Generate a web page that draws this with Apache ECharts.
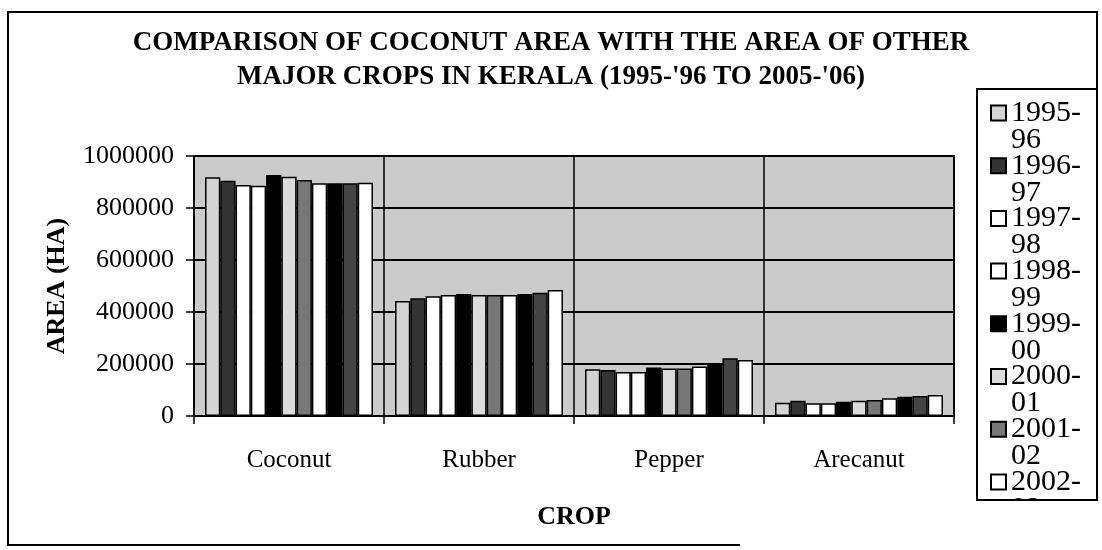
<!DOCTYPE html>
<html>
<head>
<meta charset="utf-8">
<script src="https://cdn.jsdelivr.net/npm/echarts@6/dist/echarts.min.js"></script>
<style>
  html, body { margin: 0; padding: 0; background: #fff; }
  #chart { width: 1102px; height: 550px; }
</style>
</head>
<body>
<div id="chart"></div>
<script>
// crops on the x axis
var crops = ['Coconut', 'Rubber', 'Pepper', 'Arecanut'];
var years = ['1995-96', '1996-97', '1997-98', '1998-99', '1999-00', '2000-01',
             '2001-02', '2002-03', '2003-04', '2004-05', '2005-06'];

// area (ha) per year, order = coconut, rubber, pepper, arecanut
var y1995 = [918000, 442000, 180000, 51000];
var y1996 = [905000, 453000, 177000, 59000];
var y1997 = [888000, 461000, 169000, 49000];
var y1998 = [886000, 465000, 169000, 49000];
var y1999 = [927000, 469000, 187000, 55000];
var y2000 = [920000, 465000, 183000, 59000];
var y2001 = [908000, 465000, 183000, 62000];
var y2002 = [895000, 465000, 190000, 68000];
var y2003 = [895000, 469000, 203000, 74000];
var y2004 = [895000, 474000, 222000, 77000];
var y2005 = [897000, 485000, 215000, 81000];

var yTicks = [0, 200000, 400000, 600000, 800000, 1000000];

var allData = [y1995, y1996, y1997, y1998, y1999, y2000, y2001, y2002, y2003, y2004, y2005];
// fill of each year (scan: stippled greys, blacks, whites)
var fills = ['#d4d4d4', '#333333', '#ffffff', '#ffffff', '#000000', '#dcdcdc',
             '#777777', '#ffffff', '#000000', '#444444', '#ffffff'];

var serif = '"Liberation Serif", "Times New Roman", serif';

var series = [];
for (var i = 0; i < years.length; i++) {
  series.push({
    name: years[i],
    type: 'bar',
    data: allData[i],
    barGap: '0%',
    barCategoryGap: '11.6%',
    itemStyle: { color: fills[i], borderColor: '#000', borderWidth: 1.5 }
  });
}

var chart = echarts.init(document.getElementById('chart'));
chart.setOption({
  backgroundColor: '#fff',
  animation: false,
  title: {
    text: "COMPARISON OF COCONUT AREA WITH THE AREA OF OTHER\nMAJOR CROPS IN KERALA (1995-'96 TO 2005-'06)",
    left: 'center',
    top: 21,
    textStyle: { fontFamily: serif, fontWeight: 'bold', fontSize: 27, lineHeight: 34, color: '#000' }
  },
  legend: {
    orient: 'vertical',
    left: 990,
    top: 71,
    padding: 0,
    itemGap: -31.3,
    itemWidth: 15,
    itemHeight: 15,
    icon: 'rect',
    data: years.slice(0, 8),
    // blank first line so the year sits level with the swatch
    formatter: function (name) { return '\n' + name.replace('-', '-\n'); },
    textStyle: { fontFamily: serif, fontSize: 30, lineHeight: 27, color: '#000' }
  },
  grid: {
    left: 194, right: 148, top: 156, bottom: 134,
    show: true, backgroundColor: '#cbcbcb', borderColor: '#000', borderWidth: 2
  },
  xAxis: {
    type: 'category',
    data: crops,
    name: 'CROP',
    nameLocation: 'middle',
    nameGap: 88,
    nameTextStyle: { fontFamily: serif, fontWeight: 'bold', fontSize: 26, color: '#000' },
    axisLine: { lineStyle: { color: '#000', width: 2 } },
    axisTick: { show: true, length: 8, lineStyle: { color: '#000', width: 1.5 } },
    axisLabel: { fontFamily: serif, fontSize: 25, color: '#000', margin: 32 },
    splitLine: { show: true, lineStyle: { color: '#000', width: 1.5 } }
  },
  yAxis: {
    type: 'value',
    min: yTicks[0],
    max: yTicks[yTicks.length - 1],
    interval: 200000,
    name: 'AREA (HA)',
    nameLocation: 'middle',
    nameGap: 124,
    nameTextStyle: { fontFamily: serif, fontWeight: 'bold', fontSize: 26, color: '#000' },
    axisLine: { show: true, lineStyle: { color: '#000', width: 2 } },
    axisTick: { show: true, length: 8, lineStyle: { color: '#000', width: 1.5 } },
    axisLabel: { fontFamily: serif, fontSize: 26, color: '#000', margin: 20,
                 formatter: function (v) { return String(v); } },
    splitLine: { show: true, lineStyle: { color: '#000', width: 2 } }
  },
  graphic: [
    // outer chart frame (partly cut off in the scan)
    { type: 'polyline', silent: true, z: 10,
      shape: { points: [[1097, 89], [1097, 12], [8, 12], [8, 545], [740, 545]] },
      style: { fill: null, stroke: '#000', lineWidth: 2 } },
    // clip the legend box bottom
    { type: 'rect', silent: true, z: 10,
      shape: { x: 970, y: 501, width: 132, height: 49 },
      style: { fill: '#fff' } },
    // legend box
    { type: 'rect', silent: true, z: 11,
      shape: { x: 977, y: 89, width: 120, height: 411 },
      style: { fill: null, stroke: '#000', lineWidth: 2 } }
  ],
  series: series
});
</script>
</body>
</html>
